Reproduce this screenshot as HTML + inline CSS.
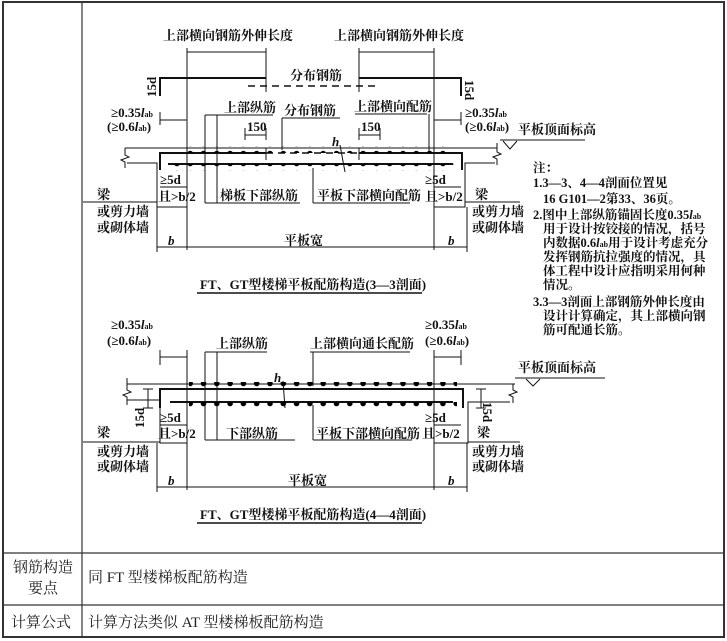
<!DOCTYPE html>
<html><head><meta charset="utf-8"><style>
html,body{margin:0;padding:0;background:#fff;}
body{width:727px;height:641px;overflow:hidden;}
svg{display:block;}
.t{font-family:"Liberation Serif","Noto Serif CJK SC",serif;font-weight:bold;font-size:13px;fill:#111;}
.n{font-family:"Liberation Serif","Noto Serif CJK SC",serif;font-weight:bold;font-size:12.5px;fill:#111;}
.c{font-family:"Liberation Serif","Noto Serif CJK SC",serif;font-size:15px;fill:#222;}
</style></head><body>
<svg width="727" height="641" viewBox="0 0 727 641" xmlns="http://www.w3.org/2000/svg">
<defs>
<pattern id="d1" x="0" y="0" width="13.3" height="10" patternUnits="userSpaceOnUse"><circle cx="4" cy="3.5" r="2.8" fill="#000"/></pattern>
</defs>
<!-- table -->
<g stroke="#333" fill="none">
<rect x="3" y="2" width="721" height="635" stroke-width="2"/>
<line x1="82" y1="2" x2="82" y2="637" stroke-width="1.2"/>
<line x1="3" y1="553" x2="724" y2="553" stroke-width="1.2"/>
<line x1="3" y1="605" x2="724" y2="605" stroke-width="1.2"/>
</g>
<text class="c" x="13" y="572">钢筋构造</text>
<text class="c" x="28" y="593">要点</text>
<text class="c" x="88" y="582">同 FT 型楼梯板配筋构造</text>
<text class="c" x="11" y="627">计算公式</text>
<text class="c" x="88" y="627">计算方法类似 AT 型楼梯板配筋构造</text>

<!-- ===== Section 3-3 ===== -->
<g stroke="#111" stroke-width="1" fill="none">
<line x1="187" y1="52" x2="266" y2="52"/><line x1="359" y1="52" x2="434" y2="52"/>
<line x1="187" y1="48" x2="187" y2="250"/><line x1="266" y1="48" x2="266" y2="92"/>
<line x1="359" y1="48" x2="359" y2="92"/><line x1="434" y1="48" x2="434" y2="250"/>
<polyline points="160,96 160,78 266,78" stroke-width="2"/>
<polyline points="359,78 461,78 461,96" stroke-width="2"/>
<line x1="248" y1="86" x2="376" y2="86" stroke-width="1.6" stroke-dasharray="7,5"/>
<line x1="160" y1="120" x2="187" y2="120"/><line x1="160" y1="112" x2="160" y2="125"/>
<line x1="434" y1="120" x2="461" y2="120"/><line x1="461" y1="112" x2="461" y2="125"/>
<line x1="245" y1="135" x2="266" y2="135"/><line x1="245" y1="128" x2="245" y2="140"/><line x1="266" y1="128" x2="266" y2="140"/>
<line x1="359" y1="135" x2="380" y2="135"/><line x1="359" y1="128" x2="359" y2="140"/><line x1="380" y1="128" x2="380" y2="140"/>
<line x1="125" y1="148" x2="497" y2="148"/>
<polyline points="127,163 157,163 157,207 187,207 187,170"/>
<polyline points="495,163 465,163 465,207 434,207 434,170"/>
<polyline points="125,148 125,155 129,157 121,160 125,162 125,168"/>
<polyline points="497,143 497,152 501,154 493,157 497,159 497,165"/>
<polyline points="160,170 160,153 266,153" stroke-width="2"/>
<line x1="266" y1="153" x2="359" y2="153" stroke-width="1.6" stroke-dasharray="7,5"/>
<polyline points="359,153 462,153 462,170" stroke-width="2"/>
<line x1="266" y1="148" x2="266" y2="160"/><line x1="359" y1="148" x2="359" y2="160"/>
<line x1="168" y1="164" x2="453" y2="164" stroke-width="2"/>
<line x1="340" y1="145" x2="345" y2="172"/>
<line x1="205" y1="115" x2="273" y2="115"/><line x1="205" y1="115" x2="205" y2="203"/><line x1="217" y1="115" x2="217" y2="203"/>
<line x1="205" y1="203" x2="300" y2="203"/>
<line x1="282" y1="118" x2="340" y2="118"/><line x1="282" y1="118" x2="282" y2="150"/>
<line x1="355" y1="114" x2="427" y2="114"/><line x1="429" y1="114" x2="429" y2="152"/>
<line x1="313" y1="168" x2="313" y2="203"/><line x1="313" y1="203" x2="410" y2="203"/>
<line x1="160" y1="187" x2="187" y2="187"/><line x1="434" y1="187" x2="461" y2="187"/>
<line x1="83" y1="202" x2="157" y2="202"/><line x1="465" y1="202" x2="520" y2="202"/>
<line x1="157" y1="247" x2="467" y2="247"/>
<line x1="157" y1="207" x2="157" y2="252"/><line x1="467" y1="207" x2="467" y2="252"/>
<line x1="197" y1="293" x2="422" y2="293" stroke-width="1.6"/>
<line x1="500" y1="140" x2="585" y2="140"/>
<polyline points="503,141 510,149 517,141"/>
</g>
<rect x="186" y="146" width="268" height="7" fill="url(#d1)"/>
<rect x="169" y="164" width="285" height="7" fill="url(#d1)"/>
<text class="t" x="163" y="40">上部横向钢筋外伸长度</text>
<text class="t" x="334" y="40">上部横向钢筋外伸长度</text>
<text class="t" x="290" y="80">分布钢筋</text>
<text class="t" transform="translate(156,97) rotate(-90)">15d</text>
<text class="t" transform="translate(465,80) rotate(90)">15d</text>
<text class="t" x="111" y="117">≥0.35<tspan font-style="italic">l</tspan><tspan font-size="8">ab</tspan></text>
<text class="t" x="107" y="131">(≥0.6<tspan font-style="italic">l</tspan><tspan font-size="8">ab</tspan>)</text>
<text class="t" x="465" y="117">≥0.35<tspan font-style="italic">l</tspan><tspan font-size="8">ab</tspan></text>
<text class="t" x="465" y="131">(≥0.6<tspan font-style="italic">l</tspan><tspan font-size="8">ab</tspan>)</text>
<text class="t" x="224" y="112">上部纵筋</text>
<text class="t" x="284" y="115">分布钢筋</text>
<text class="t" x="354" y="111">上部横向配筋</text>
<text class="t" x="247" y="131">150</text>
<text class="t" x="361" y="131">150</text>
<text class="t" x="332" y="146" font-style="italic">h</text>
<text class="t" x="160" y="184">≥5d</text>
<text class="t" x="158" y="201">且&gt;b/2</text>
<text class="t" x="425" y="184">≥5d</text>
<text class="t" x="425" y="201">且&gt;b/2</text>
<text class="t" x="220" y="200">梯板下部纵筋</text>
<text class="t" x="317" y="200">平板下部横向配筋</text>
<text class="t" x="97" y="199">梁</text>
<text class="t" x="97" y="216">或剪力墙</text>
<text class="t" x="97" y="232">或砌体墙</text>
<text class="t" x="475" y="199">梁</text>
<text class="t" x="472" y="216">或剪力墙</text>
<text class="t" x="472" y="232">或砌体墙</text>
<text class="t" x="168" y="245" font-style="italic">b</text>
<text class="t" x="284" y="245">平板宽</text>
<text class="t" x="448" y="245" font-style="italic">b</text>
<text class="t" x="200" y="289">FT、GT型楼梯平板配筋构造(3—3剖面)</text>
<text class="t" x="518" y="134">平板顶面标高</text>
<text class="n" x="533" y="172">注：</text>
<text class="n" x="533" y="187">1.3—3、4—4剖面位置见</text>
<text class="n" x="543" y="203">16 G101—2第33、36页。</text>
<text class="n" x="533" y="219">2.图中上部纵筋锚固长度0.35<tspan font-style="italic">l</tspan><tspan font-size="8">ab</tspan></text>
<text class="n" x="543" y="233">用于设计按铰接的情况，括号</text>
<text class="n" x="543" y="247">内数据0.6<tspan font-style="italic">l</tspan><tspan font-size="8">ab</tspan>用于设计考虑充分</text>
<text class="n" x="543" y="261">发挥钢筋抗拉强度的情况，具</text>
<text class="n" x="543" y="275">体工程中设计应指明采用何种</text>
<text class="n" x="543" y="289">情况。</text>
<text class="n" x="533" y="306">3.3—3剖面上部钢筋外伸长度由</text>
<text class="n" x="543" y="320">设计计算确定，其上部横向钢</text>
<text class="n" x="543" y="334">筋可配通长筋。</text>

<!-- ===== Section 4-4 ===== -->
<g stroke="#111" stroke-width="1" fill="none">
<line x1="160" y1="357" x2="187" y2="357"/><line x1="160" y1="350" x2="160" y2="365"/><line x1="187" y1="350" x2="187" y2="490"/>
<line x1="434" y1="357" x2="461" y2="357"/><line x1="461" y1="350" x2="461" y2="365"/><line x1="434" y1="350" x2="434" y2="490"/>
<line x1="127" y1="384" x2="515" y2="384"/>
<polyline points="127,400 160,400 160,443 187,443 187,408"/>
<polyline points="510,402 468,402 468,443 434,443 434,408"/>
<polyline points="127,378 127,390 131,392 123,395 127,397 127,405"/>
<polyline points="513,384 513,390 517,392 509,395 513,397 513,403"/>
<polyline points="160,408 160,389 463,389 463,408" stroke-width="2"/>
<line x1="170" y1="402" x2="453" y2="402" stroke-width="2"/>
<line x1="283" y1="381" x2="285" y2="408"/>
<line x1="148" y1="389" x2="148" y2="408"/><line x1="143" y1="389" x2="153" y2="389"/><line x1="143" y1="408" x2="153" y2="408"/>
<line x1="481" y1="389" x2="481" y2="408"/><line x1="476" y1="389" x2="486" y2="389"/><line x1="476" y1="408" x2="486" y2="408"/>
<line x1="205" y1="352" x2="267" y2="352"/><line x1="205" y1="352" x2="205" y2="440"/><line x1="217" y1="352" x2="217" y2="440"/>
<line x1="205" y1="440" x2="295" y2="440"/>
<line x1="310" y1="352" x2="410" y2="352"/><line x1="313" y1="352" x2="313" y2="386"/>
<line x1="313" y1="405" x2="313" y2="440"/><line x1="313" y1="440" x2="412" y2="440"/>
<line x1="160" y1="425" x2="187" y2="425"/><line x1="434" y1="425" x2="461" y2="425"/>
<line x1="83" y1="442" x2="160" y2="442"/><line x1="468" y1="442" x2="520" y2="442"/>
<line x1="157" y1="487" x2="467" y2="487"/>
<line x1="157" y1="443" x2="157" y2="492"/><line x1="467" y1="443" x2="467" y2="492"/>
<line x1="197" y1="523" x2="422" y2="523" stroke-width="1.6"/>
<line x1="515" y1="378" x2="605" y2="378"/>
<polyline points="526,379 533,386 540,379"/>
</g>
<rect x="189" y="382" width="268" height="7" fill="url(#d1)"/>
<rect x="189" y="402" width="268" height="7" fill="url(#d1)"/>
<text class="t" x="111" y="329">≥0.35<tspan font-style="italic">l</tspan><tspan font-size="8">ab</tspan></text>
<text class="t" x="107" y="345">(≥0.6<tspan font-style="italic">l</tspan><tspan font-size="8">ab</tspan>)</text>
<text class="t" x="425" y="329">≥0.35<tspan font-style="italic">l</tspan><tspan font-size="8">ab</tspan></text>
<text class="t" x="425" y="345">(≥0.6<tspan font-style="italic">l</tspan><tspan font-size="8">ab</tspan>)</text>
<text class="t" x="216" y="348">上部纵筋</text>
<text class="t" x="310" y="348">上部横向通长配筋</text>
<text class="t" x="274" y="382" font-style="italic">h</text>
<text class="t" transform="translate(144,428) rotate(-90)">15d</text>
<text class="t" transform="translate(483,402) rotate(90)">15d</text>
<text class="t" x="160" y="422">≥5d</text>
<text class="t" x="158" y="438">且&gt;b/2</text>
<text class="t" x="425" y="422">≥5d</text>
<text class="t" x="422" y="438">且&gt;b/2</text>
<text class="t" x="226" y="438">下部纵筋</text>
<text class="t" x="316" y="438">平板下部横向配筋</text>
<text class="t" x="97" y="437">梁</text>
<text class="t" x="97" y="456">或剪力墙</text>
<text class="t" x="97" y="471">或砌体墙</text>
<text class="t" x="477" y="437">梁</text>
<text class="t" x="472" y="456">或剪力墙</text>
<text class="t" x="472" y="471">或砌体墙</text>
<text class="t" x="168" y="485" font-style="italic">b</text>
<text class="t" x="288" y="485">平板宽</text>
<text class="t" x="448" y="485" font-style="italic">b</text>
<text class="t" x="200" y="519">FT、GT型楼梯平板配筋构造(4—4剖面)</text>
<text class="t" x="518" y="372">平板顶面标高</text>
</svg>
</body></html>
